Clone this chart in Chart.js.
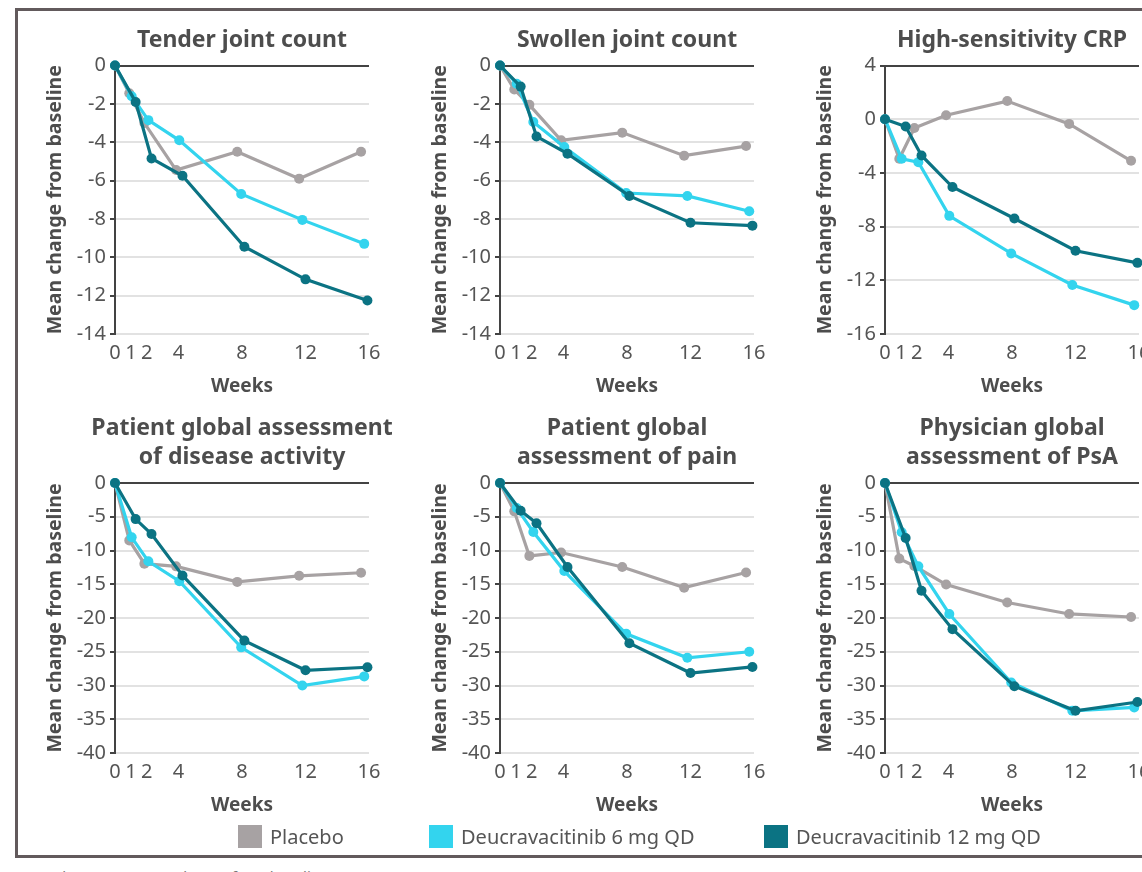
<!DOCTYPE html>
<html>
<head>
<meta charset="utf-8">
<script src="https://cdn.jsdelivr.net/npm/chart.js@4.4.1/dist/chart.umd.min.js"></script>
<style>
  html, body { margin: 0; padding: 0; width: 1142px; height: 872px; overflow: hidden; background: #fff; font-family: 'Noto Sans', sans-serif; }
  #frame { position: absolute; left: 15px; top: 8px; width: 1200px; height: 850px; border: 3px solid #625a5c; box-sizing: border-box; }
  canvas { position: absolute; }
  .key { position: absolute; top: 825px; height: 23px; }
  .key span.sw { position: absolute; left: 0; top: 0; width: 24px; height: 23px; }
  .key span.lbl { position: absolute; left: 32px; top: -2px; font-size: 20px; line-height: 27px; color: #555; white-space: nowrap; }
  #note { position: absolute; left: 18px; top: 866px; font-size: 15px; color: #777; white-space: nowrap; }
</style>
</head>
<body>
<div id="frame"></div>
<canvas id="c1" width="454" height="400" style="left:15px;top:14px"></canvas>
<canvas id="c2" width="454" height="400" style="left:400px;top:14px"></canvas>
<canvas id="c3" width="454" height="400" style="left:785px;top:14px"></canvas>
<canvas id="c4" width="454" height="419" style="left:15px;top:414px"></canvas>
<canvas id="c5" width="454" height="419" style="left:400px;top:414px"></canvas>
<canvas id="c6" width="454" height="419" style="left:785px;top:414px"></canvas>
<div id="legend"></div>
<div id="note">Data shown are mean change from baseline</div>
<script>
// x-axis tick labels (weeks)
const weekTicks = [0, 1, 2, 4, 8, 12, 16];

// y-axis tick labels
const jointTicks = [0, -2, -4, -6, -8, -10, -12, -14];
const crpTicks = [4, 0, -4, -8, -12, -16];
const scoreTicks = [0, -5, -10, -15, -20, -25, -30, -35, -40];

const groupNames = ['Placebo', 'Deucravacitinib 6 mg QD', 'Deucravacitinib 12 mg QD'];
const groupColors = ['#a7a2a3', '#33d4ee', '#0b7383'];

// visit weeks as plotted (the three groups are drawn slightly staggered)
const placeboWeeks = [0, 0.9, 1.85, 3.85, 7.7, 11.6, 15.5];
const dose6Weeks = [0, 1.05, 2.1, 4.05, 7.95, 11.8, 15.7];
const dose12Weeks = [0, 1.3, 2.3, 4.25, 8.15, 12.0, 15.9];

const tenderPlacebo = [0, -1.45, -3.0, -5.45, -4.5, -5.9, -4.5];
const tender6 = [0, -1.6, -2.85, -3.9, -6.7, -8.05, -9.3];
const tender12 = [0, -1.9, -4.85, -5.75, -9.45, -11.15, -12.25];

const swollenPlacebo = [0, -1.25, -2.05, -3.9, -3.5, -4.7, -4.2];
const swollen6 = [0, -0.95, -2.95, -4.25, -6.65, -6.8, -7.6];
const swollen12 = [0, -1.1, -3.7, -4.6, -6.8, -8.2, -8.35];

const crpPlacebo = [0, -2.95, -0.65, 0.3, 1.35, -0.35, -3.1];
const crp6 = [0, -2.95, -3.2, -7.2, -10.0, -12.35, -13.85];
const crp12 = [0, -0.55, -2.7, -5.05, -7.4, -9.8, -10.7];

const ptgaPlacebo = [0, -8.5, -11.95, -12.35, -14.65, -13.75, -13.3];
const ptga6 = [0, -8.05, -11.6, -14.55, -24.35, -30.0, -28.65];
const ptga12 = [0, -5.35, -7.55, -13.7, -23.35, -27.75, -27.3];

const painPlacebo = [0, -4.2, -10.8, -10.3, -12.45, -15.5, -13.25];
const pain6 = [0, -3.7, -7.25, -13.05, -22.35, -25.9, -25.0];
const pain12 = [0, -4.1, -5.95, -12.45, -23.75, -28.15, -27.25];

const phgaPlacebo = [0, -11.2, -12.3, -15.05, -17.7, -19.4, -19.85];
const phga6 = [0, -7.3, -12.35, -19.4, -29.55, -33.75, -33.25];
const phga12 = [0, -8.15, -15.95, -21.65, -30.1, -33.75, -32.45];

const panels = [
  { id: 'c1', row: 0, title: 'Tender joint count', ticks: jointTicks, values: [tenderPlacebo, tender6, tender12] },
  { id: 'c2', row: 0, title: 'Swollen joint count', ticks: jointTicks, values: [swollenPlacebo, swollen6, swollen12] },
  { id: 'c3', row: 0, title: 'High-sensitivity CRP', ticks: crpTicks, values: [crpPlacebo, crp6, crp12] },
  { id: 'c4', row: 1, title: ['Patient global assessment', 'of disease activity'], ticks: scoreTicks, values: [ptgaPlacebo, ptga6, ptga12] },
  { id: 'c5', row: 1, title: ['Patient global', 'assessment of pain'], ticks: scoreTicks, values: [painPlacebo, pain6, pain12] },
  { id: 'c6', row: 1, title: ['Physician global', 'assessment of PsA'], ticks: scoreTicks, values: [phgaPlacebo, phga6, phga12] }
];

const weekSets = [placeboWeeks, dose6Weeks, dose12Weeks];
const font = "'Noto Sans', sans-serif";
const textColor = '#4d4d4d';
const tickColor = '#555555';
const dark = '#434343';
const light = '#e2e2e2';

panels.forEach(function (p) {
  const yMin = Math.min(...p.ticks);
  const yMax = Math.max(...p.ticks);
  const datasets = p.values.map(function (vals, g) {
    return {
      label: groupNames[g],
      data: vals.map((v, i) => ({ x: weekSets[g][i], y: v })),
      borderColor: groupColors[g],
      backgroundColor: groupColors[g],
      pointBackgroundColor: groupColors[g],
      pointBorderWidth: 0,
      pointRadius: 5,
      borderWidth: 3.2,
      tension: 0,
      clip: false,
      order: 3 - g
    };
  });

  new Chart(document.getElementById(p.id), {
    type: 'line',
    data: { datasets: datasets },
    options: {
      responsive: false,
      animation: false,
      devicePixelRatio: 1,
      layout: { padding: 0 },
      plugins: {
        legend: { display: false },
        tooltip: { enabled: false },
        title: {
          display: true,
          text: p.title,
          color: textColor,
          font: { family: font, size: 23, weight: 'bold', lineHeight: '29px' },
          padding: { top: p.row === 0 ? 11.5 : 0, bottom: 11 }
        }
      },
      scales: {
        x: {
          type: 'linear',
          min: 0,
          max: 16,
          afterBuildTicks: function (s) { s.ticks = weekTicks.map(v => ({ value: v })); },
          afterFit: function (s) { s.height = 80; },
          grid: { display: false, drawTicks: false },
          border: { display: false },
          ticks: { autoSkip: false, maxRotation: 0, padding: 7, color: tickColor, font: { family: font, size: 20 } },
          title: { display: true, text: 'Weeks', color: textColor, font: { family: font, size: 19, weight: 'bold' }, padding: { top: 0, bottom: 16.5 } }
        },
        y: {
          min: yMin,
          max: yMax,
          afterBuildTicks: function (s) { s.ticks = p.ticks.slice().reverse().map(v => ({ value: v })); },
          afterFit: function (s) { s.width = 100; },
          grid: {
            color: ctx => (ctx.tick && ctx.tick.value === yMax ? dark : light),
            lineWidth: 2,
            tickColor: dark,
            tickLength: 5,
            tickWidth: 2
          },
          border: { color: dark, width: 2 },
          ticks: { padding: 4, color: tickColor, font: { family: font, size: 20 } },
          title: { display: true, text: 'Mean change from baseline', color: textColor, font: { family: font, size: 19.5, weight: 'bold' }, padding: { top: 28.3, bottom: 0 } }
        },
        // empty right-hand spacer so the panel title centres over the plot
        spacer: {
          type: 'linear',
          position: 'right',
          min: 0,
          max: 1,
          afterFit: function (s) { s.width = 100; },
          grid: { display: false, drawTicks: false },
          border: { display: false },
          ticks: { display: false }
        }
      }
    }
  });
});

// shared legend
const legendLefts = [238, 429, 764];
const legend = document.getElementById('legend');
groupNames.forEach(function (name, g) {
  const item = document.createElement('div');
  item.className = 'key';
  item.style.left = legendLefts[g] + 'px';
  item.innerHTML = '<span class="sw" style="background:' + groupColors[g] + '"></span><span class="lbl">' + name + '</span>';
  legend.appendChild(item);
});
</script>
</body>
</html>
